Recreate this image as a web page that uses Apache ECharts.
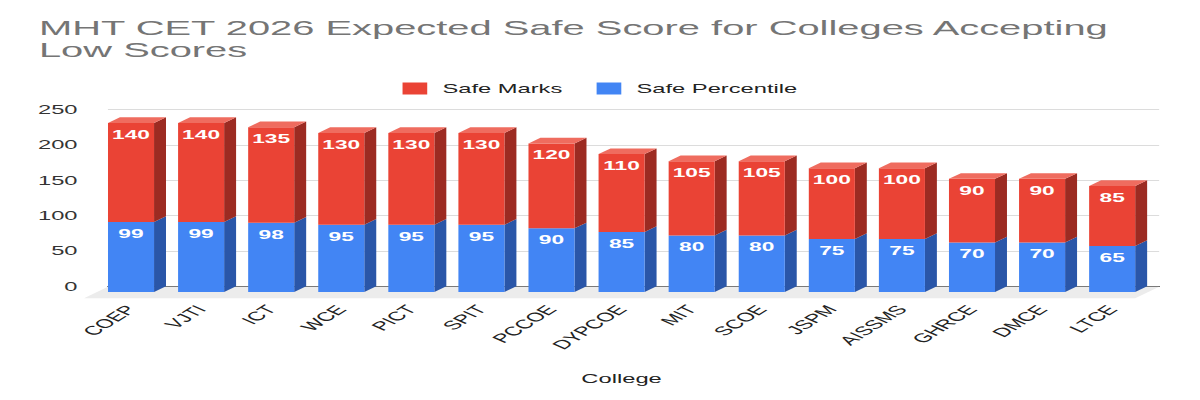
<!DOCTYPE html>
<html>
<head>
<meta charset="utf-8">
<script src="https://cdn.jsdelivr.net/npm/echarts@6/dist/echarts.min.js"></script>
<style>
  html, body { margin: 0; padding: 0; background: #fff; overflow: hidden; }
  /* the reference is stretched sideways, so the chart is drawn narrow and widened */
  #main { width: 632px; height: 400px; transform: scaleX(1.8987); transform-origin: 0 0; }
</style>
</head>
<body>
<div id="main"></div>
<script>
const colleges = ['COEP', 'VJTI', 'ICT', 'WCE', 'PICT', 'SPIT', 'PCCOE', 'DYPCOE', 'MIT', 'SCOE', 'JSPM', 'AISSMS', 'GHRCE', 'DMCE', 'LTCE'];
const safePercentile = [99, 99, 98, 95, 95, 95, 90, 85, 80, 80, 75, 75, 70, 70, 65];
const safeMarks = [140, 140, 135, 130, 130, 130, 120, 110, 105, 105, 100, 100, 90, 90, 85];
const yMin = 0;
const yMax = 250;
const yStep = 50;

const FONT = 'Liberation Sans, Arial, sans-serif';
const DX = 6.3;   // depth of the 3d bars
const DY = -5.7;
const BAR_RATIO = 0.657;

// front face + side + top of one stacked block
function blockRender (front, side, topColor, withTop) {
  return function (params, api) {
    const i = api.value(0);
    const v = api.value(1);
    const base = api.value(2);
    const p0 = api.coord([i, base]);
    const p1 = api.coord([i, base + v]);
    const w = api.size([1, 0])[0] * BAR_RATIO;
    const x0 = p0[0] - w / 2;
    const x1 = p0[0] + w / 2;
    const yb = p0[1];
    const yt = p1[1];
    const children = [
      {
        type: 'polygon',
        shape: { points: [[x1, yb], [x1 + DX, yb + DY], [x1 + DX, yt + DY], [x1, yt]] },
        style: { fill: side },
      },
      {
        type: 'rect',
        shape: { x: x0, y: yt, width: w, height: yb - yt },
        style: { fill: front },
      },
    ];
    if (withTop) {
      children.push({
        type: 'polygon',
        shape: { points: [[x0, yt], [x1, yt], [x1 + DX, yt + DY], [x0 + DX, yt + DY]] },
        style: { fill: topColor },
      });
    }
    children.push({
      type: 'text',
      style: {
        text: String(v),
        x: p0[0],
        y: yt + 12,
        align: 'center',
        verticalAlign: 'middle',
        fill: '#ffffff',
        font: 'bold 12px ' + FONT,
      },
    });
    return { type: 'group', children: children };
  };
}

// light floor under the bars
function floorRender (params, api) {
  const cs = params.coordSys;
  const y = cs.y + cs.height + 0.5;
  return {
    type: 'polygon',
    shape: {
      points: [[cs.x, y], [cs.x + cs.width, y], [cs.x + cs.width - 2 * DX, y - 2 * DY], [cs.x - 2 * DX, y - 2 * DY]],
    },
    style: { fill: '#ececec' },
  };
}

const chart = echarts.init(document.getElementById('main'), null, { renderer: 'svg' });

const option = {
  animation: false,
  title: {
    text: 'MHT CET 2026 Expected Safe Score for Colleges Accepting\nLow Scores',
    left: 20.5,
    top: 17,
    padding: 0,
    textStyle: { fontFamily: FONT, fontSize: 21, fontWeight: 'normal', color: '#757575', lineHeight: 22 },
  },
  legend: {
    data: ['Safe Marks', 'Safe Percentile'],
    top: 77,
    left: 'center',
    icon: 'rect',
    itemWidth: 13,
    itemHeight: 12,
    itemGap: 18,
    textStyle: { fontFamily: FONT, fontSize: 12.5, color: '#222', padding: [0, 0, 0, 3] },
  },
  color: ['#ea4335', '#4285f4'],
  grid: [
    { left: 50.55, right: 27.8, top: 115.2, bottom: 108 }, // front (bars)
    { left: 56.85, right: 21.5, top: 109.5, bottom: 113.7 }, // back wall
  ],
  xAxis: [
    {
      type: 'category',
      gridIndex: 0,
      data: colleges,
      axisLine: { show: false },
      axisTick: { show: false },
      axisLabel: { interval: 0, rotate: 50, margin: 15, fontFamily: FONT, fontSize: 12.5, color: '#222' },
      name: 'College',
      nameLocation: 'middle',
      nameGap: 80,
      nameTextStyle: { fontFamily: FONT, fontSize: 12.5, color: '#222' },
    },
    {
      type: 'category',
      gridIndex: 1,
      data: colleges,
      axisLine: { lineStyle: { color: '#555', width: 1 } },
      axisTick: { show: false },
      axisLabel: { show: false },
    },
  ],
  yAxis: [
    { type: 'value', gridIndex: 0, min: yMin, max: yMax, interval: yStep, show: false },
    {
      type: 'value',
      gridIndex: 1,
      min: yMin,
      max: yMax,
      interval: yStep,
      axisLine: { show: false },
      axisTick: { show: false },
      splitLine: { lineStyle: { color: '#dcdcdc' } },
      axisLabel: { margin: 16, fontFamily: FONT, fontSize: 12.5, color: '#333' },
    },
  ],
  series: [
    {
      type: 'custom',
      name: 'floor',
      xAxisIndex: 1,
      yAxisIndex: 1,
      z: 1,
      silent: true,
      renderItem: floorRender,
      data: [[0, 0]],
    },
    {
      type: 'custom',
      name: 'Safe Percentile',
      xAxisIndex: 0,
      yAxisIndex: 0,
      z: 3,
      itemStyle: { color: '#4285f4' },
      renderItem: blockRender('#4285f4', '#2a56a8', '#6a9ef6', false),
      encode: { x: 0, y: 1 },
      data: colleges.map((c, i) => [i, safePercentile[i], 0]),
    },
    {
      type: 'custom',
      name: 'Safe Marks',
      xAxisIndex: 0,
      yAxisIndex: 0,
      z: 4,
      itemStyle: { color: '#ea4335' },
      renderItem: blockRender('#ea4335', '#9c2b22', '#ef6c5f', true),
      encode: { x: 0, y: 1 },
      data: colleges.map((c, i) => [i, safeMarks[i], safePercentile[i]]),
    },
  ],
};

chart.setOption(option);
</script>
</body>
</html>
